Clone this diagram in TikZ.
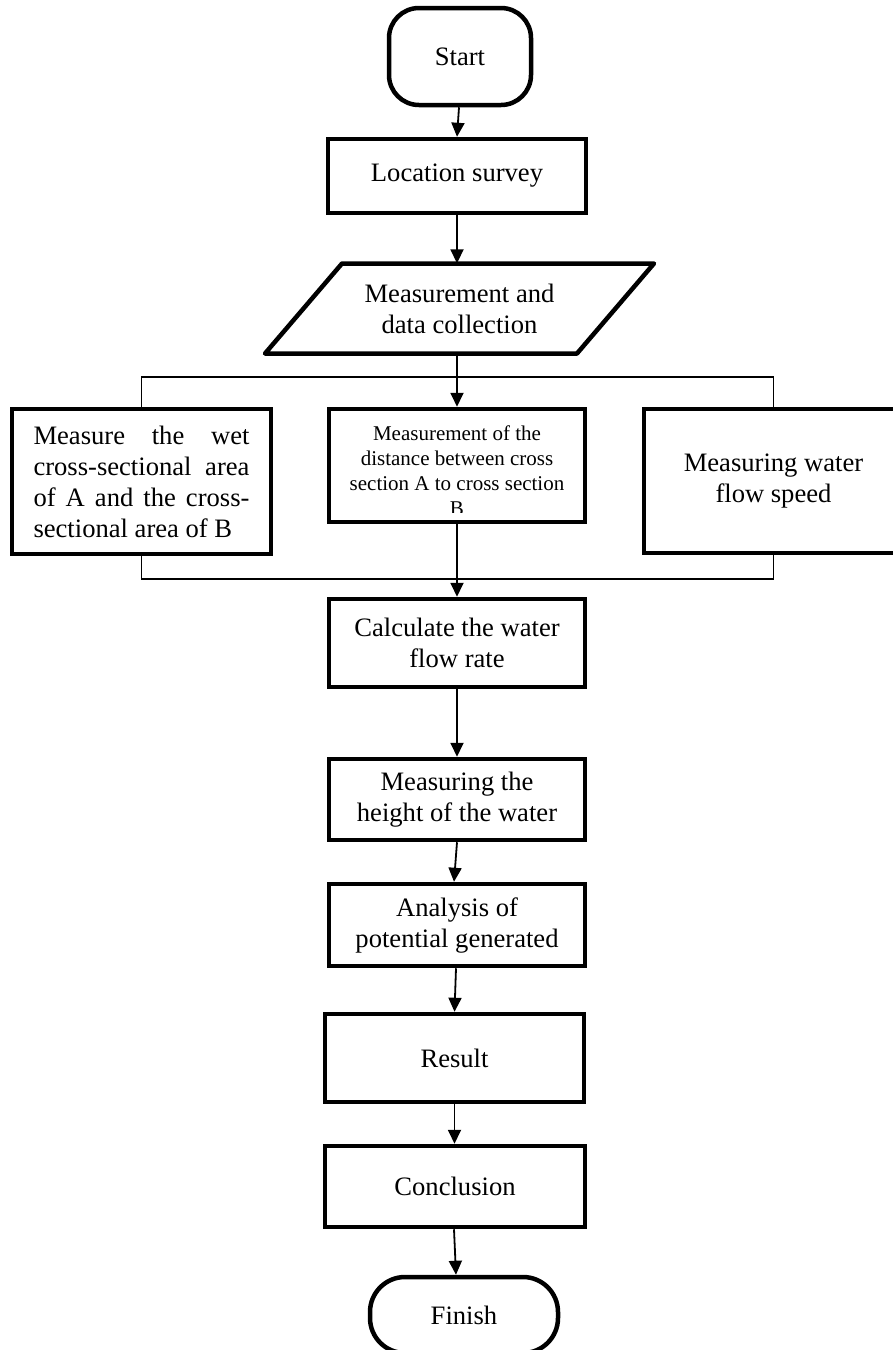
\documentclass[tikz,border=0pt]{standalone}
\usepackage{fontspec}
\setmainfont{Liberation Serif}
\usetikzlibrary{arrows.meta}
\newcommand{\mainfnt}{\fontsize{26.6}{31}\selectfont}
\newcommand{\smallfnt}{\fontsize{21}{25}\selectfont}
\begin{document}
\begin{tikzpicture}[x=1pt,y=-1pt,
  box/.style={draw, line width=4.5pt, inner sep=0pt, align=center, font=\mainfnt},
  term/.style={box, rounded corners=30pt},
  txt/.style={inner sep=0pt, align=center, font=\mainfnt},
  arr/.style={line width=1.8pt, -{Triangle[length=14pt,width=13pt]}},
  bracket/.style={line width=1.4pt}]
\useasboundingbox (0,0) rectangle (893,1350);
\fill[white] (0,0) rectangle (893,1350);

% terminals and process boxes
\node[term, minimum width=142, minimum height=97] (start) at (460,56.5) {Start};
\node[box, minimum width=258, minimum height=74] (loc) at (457,176) {Location survey};

% parallelogram (input/output)
\node[txt, minimum width=240, minimum height=90] (par) at (459.5,308.5)
  {Measurement and\\data collection};
\draw[line width=4.5pt, line join=round] (342,263.5) -- (654,263.5) -- (577,353.5) -- (265,353.5) -- cycle;

% three parallel measurements
\node[box, minimum width=259, minimum height=145, align=left] (left) at (141.5,481.5)
  {\makebox[216pt][s]{Measure the wet}\\
   \makebox[216pt][s]{cross-sectional area}\\
   \makebox[216pt][s]{of A and the cross-}\\
   sectional area of B};
\begin{scope}
  \clip (329,409) rectangle (585,512);
  \node[txt, font=\smallfnt] (midtxt) at (457,471)
    {Measurement of the\\distance between cross\\section A to cross section\\B};
\end{scope}
\node[box, minimum width=256, minimum height=113] (mid) at (457,465.5) {};
\node[box, minimum width=259, minimum height=144] (right) at (773.5,481)
  {Measuring water\\flow speed};

\node[box, minimum width=256, minimum height=88] (calc) at (457,643) {Calculate the water\\flow rate};
\node[box, minimum width=256, minimum height=81] (height) at (457,799.5) {Measuring the\\height of the water};
\node[box, minimum width=256, minimum height=82] (anal) at (457,925) {Analysis of\\potential generated};
\node[box, minimum width=259, minimum height=88] (res) at (454.5,1058) {Result};
\node[box, minimum width=260, minimum height=81] (concl) at (455,1186.5) {Conclusion};
\node[term, rounded corners=35pt, minimum width=188, minimum height=76] (fin) at (464,1315) {Finish};

% bracket coordinates
\coordinate (brT) at (457,377);
\coordinate (brB) at (457,579);

% connectors
\draw[arr] ([xshift=-1pt]start.south) -- (loc.north);
\draw[arr] (loc.south) -- (loc.south |- par.north);
\draw[line width=1.8pt] (loc.south |- par.south) -- (brT);
\draw[arr] (brT) -- (mid.north);
\draw[bracket] (left.north) |- (brT) -| (right.north);
\draw[bracket] (left.south) |- (brB) -| (right.south);
\draw[arr] (mid.south) -- (calc.north);
\draw[arr] (calc.south) -- (height.north);
\draw[arr] (height.south) -- ([xshift=-3pt]anal.north);
\draw[arr] ([xshift=-1pt]anal.south) -- (res.north);
\draw[arr] (res.south) -- ([xshift=-0.5pt]concl.north);
\draw[arr] ([xshift=-1pt]concl.south) -- ([xshift=-8pt]fin.north);
\end{tikzpicture}
\end{document}
